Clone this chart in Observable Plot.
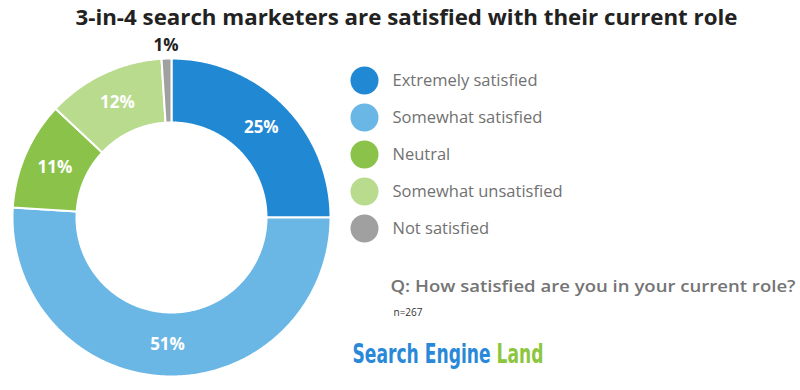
<!DOCTYPE html>
<html><head><meta charset="utf-8">
<script src="https://cdn.jsdelivr.net/npm/d3@7"></script>
<script src="https://cdn.jsdelivr.net/npm/@observablehq/plot@0.6"></script>
<style>body{margin:0;background:#fff} #chart{width:800px;height:390px}</style>
</head><body><div id="chart"></div>
<script>
// ---- data ----
const categories = ["Extremely satisfied","Somewhat satisfied","Neutral","Somewhat unsatisfied","Not satisfied"];
const values = [25, 51, 11, 12, 1];
const colors = ["#2188d3","#6ab7e6","#8bc34a","#b8db8e","#a0a0a0"];
const title = "3-in-4 search marketers are satisfied with their current role";
const question = "Q: How satisfied are you in your current role?";
const sampleNote = "n=267";
const brandMain = "Search Engine";
const brandAccent = "Land";

// ---- layout ----
const W = 800, H = 390;
const cx = 171, cy = 217, rOuter = 159, rInner = 95, rOutsideLabel = 172;
const legendX = 364, legendTextX = 392, legendY0 = 80, legendStep = 37;

const data = categories.map((c, i) => ({category: c, value: values[i], label: values[i] + "%"}));
const arcs = d3.pie().sort(null).value(d => d.value)(data);
const pt = (r, a) => [cx + r * Math.sin(a), cy - r * Math.cos(a)];

const ring = [];
arcs.forEach(a => {
  const n = Math.max(4, Math.ceil((a.endAngle - a.startAngle) / 0.01));
  for (let k = 0; k <= n; k++) {
    const t = a.startAngle + (a.endAngle - a.startAngle) * k / n;
    const [x, y] = pt(rOuter, t);
    ring.push({category: a.data.category, x, y});
  }
  for (let k = n; k >= 0; k--) {
    const t = a.startAngle + (a.endAngle - a.startAngle) * k / n;
    const [x, y] = pt(rInner, t);
    ring.push({category: a.data.category, x, y});
  }
});

const inLabels = [], outLabels = [];
arcs.forEach(a => {
  const mid = (a.startAngle + a.endAngle) / 2;
  const small = a.data.value < 5;
  const [x, y] = pt(small ? rOutsideLabel : (rInner + rOuter) / 2, mid);
  (small ? outLabels : inLabels).push({x, y, text: a.data.label});
});

const legend = categories.map((c, i) => ({category: c, y: legendY0 + legendStep * i}));
const brand = brandMain + " " + brandAccent;

const chart = Plot.plot({
  width: W, height: H, margin: 0,
  x: {domain: [0, W], range: [0, W], axis: null},
  y: {domain: [0, H], range: [0, H], axis: null},
  color: {domain: categories, range: colors},
  style: {fontFamily: "'Open Sans', sans-serif", background: "#fff"},
  marks: [
    Plot.line(ring, {x: "x", y: "y", z: "category", fill: "category", stroke: "white", strokeWidth: 2, curve: "linear-closed"}),
    Plot.text(inLabels, {x: "x", y: "y", text: "text", fill: "white", fontSize: 17, fontWeight: 700}),
    Plot.text(outLabels, {x: "x", y: "y", text: "text", fill: "#222", fontSize: 17, fontWeight: 700}),
    Plot.dot(legend, {x: legendX, y: "y", r: 14, fill: "category"}),
    Plot.text(legend, {x: legendTextX, y: "y", text: "category", textAnchor: "start", fill: "#717171", fontSize: 16.5}),
    Plot.text([title], {x: 406, y: 18, text: d => d, fill: "#222", fontSize: 21, fontWeight: 700}),
    Plot.text([question], {x: 390, y: 286, text: d => d, textAnchor: "start", fill: "#757575", fontSize: 17, fontWeight: 600}),
    Plot.text([sampleNote], {x: 393, y: 312, text: d => d, textAnchor: "start", fill: "#333", fontSize: 10}),
    Plot.text([brand], {x: 352, y: 362, text: d => d, textAnchor: "start", fill: "#2a88d8", fontSize: 27, fontWeight: 700, fontFamily: "'Liberation Sans Narrow', 'DejaVu Sans Condensed', sans-serif"})
  ]
});
document.getElementById("chart").appendChild(chart);

// fit a few texts to the measured widths of the reference; colour the brand accent
const fits = {[title]: 662, [question]: 405};
d3.select(chart).selectAll("text").each(function() {
  const t = this.textContent;
  if (fits[t]) { this.setAttribute("textLength", fits[t]); this.setAttribute("lengthAdjust", "spacingAndGlyphs"); }
  if (t === brand) {
    const el = d3.select(this);
    el.text(null);
    el.append("tspan").text(brandMain + " ");
    el.append("tspan").attr("fill", "#8cc63f").text(brandAccent);
    const w = this.getComputedTextLength();
    const s = 191 / w;
    const x = +this.getAttribute("x") || 0, y = +this.getAttribute("y") || 0;
    const tr = this.getAttribute("transform") || "";
    this.setAttribute("x", 0); this.setAttribute("y", 0);
    this.setAttribute("transform", `${tr} translate(${x},${y}) scale(${s},1)`);
  }
});
</script>
</body></html>
